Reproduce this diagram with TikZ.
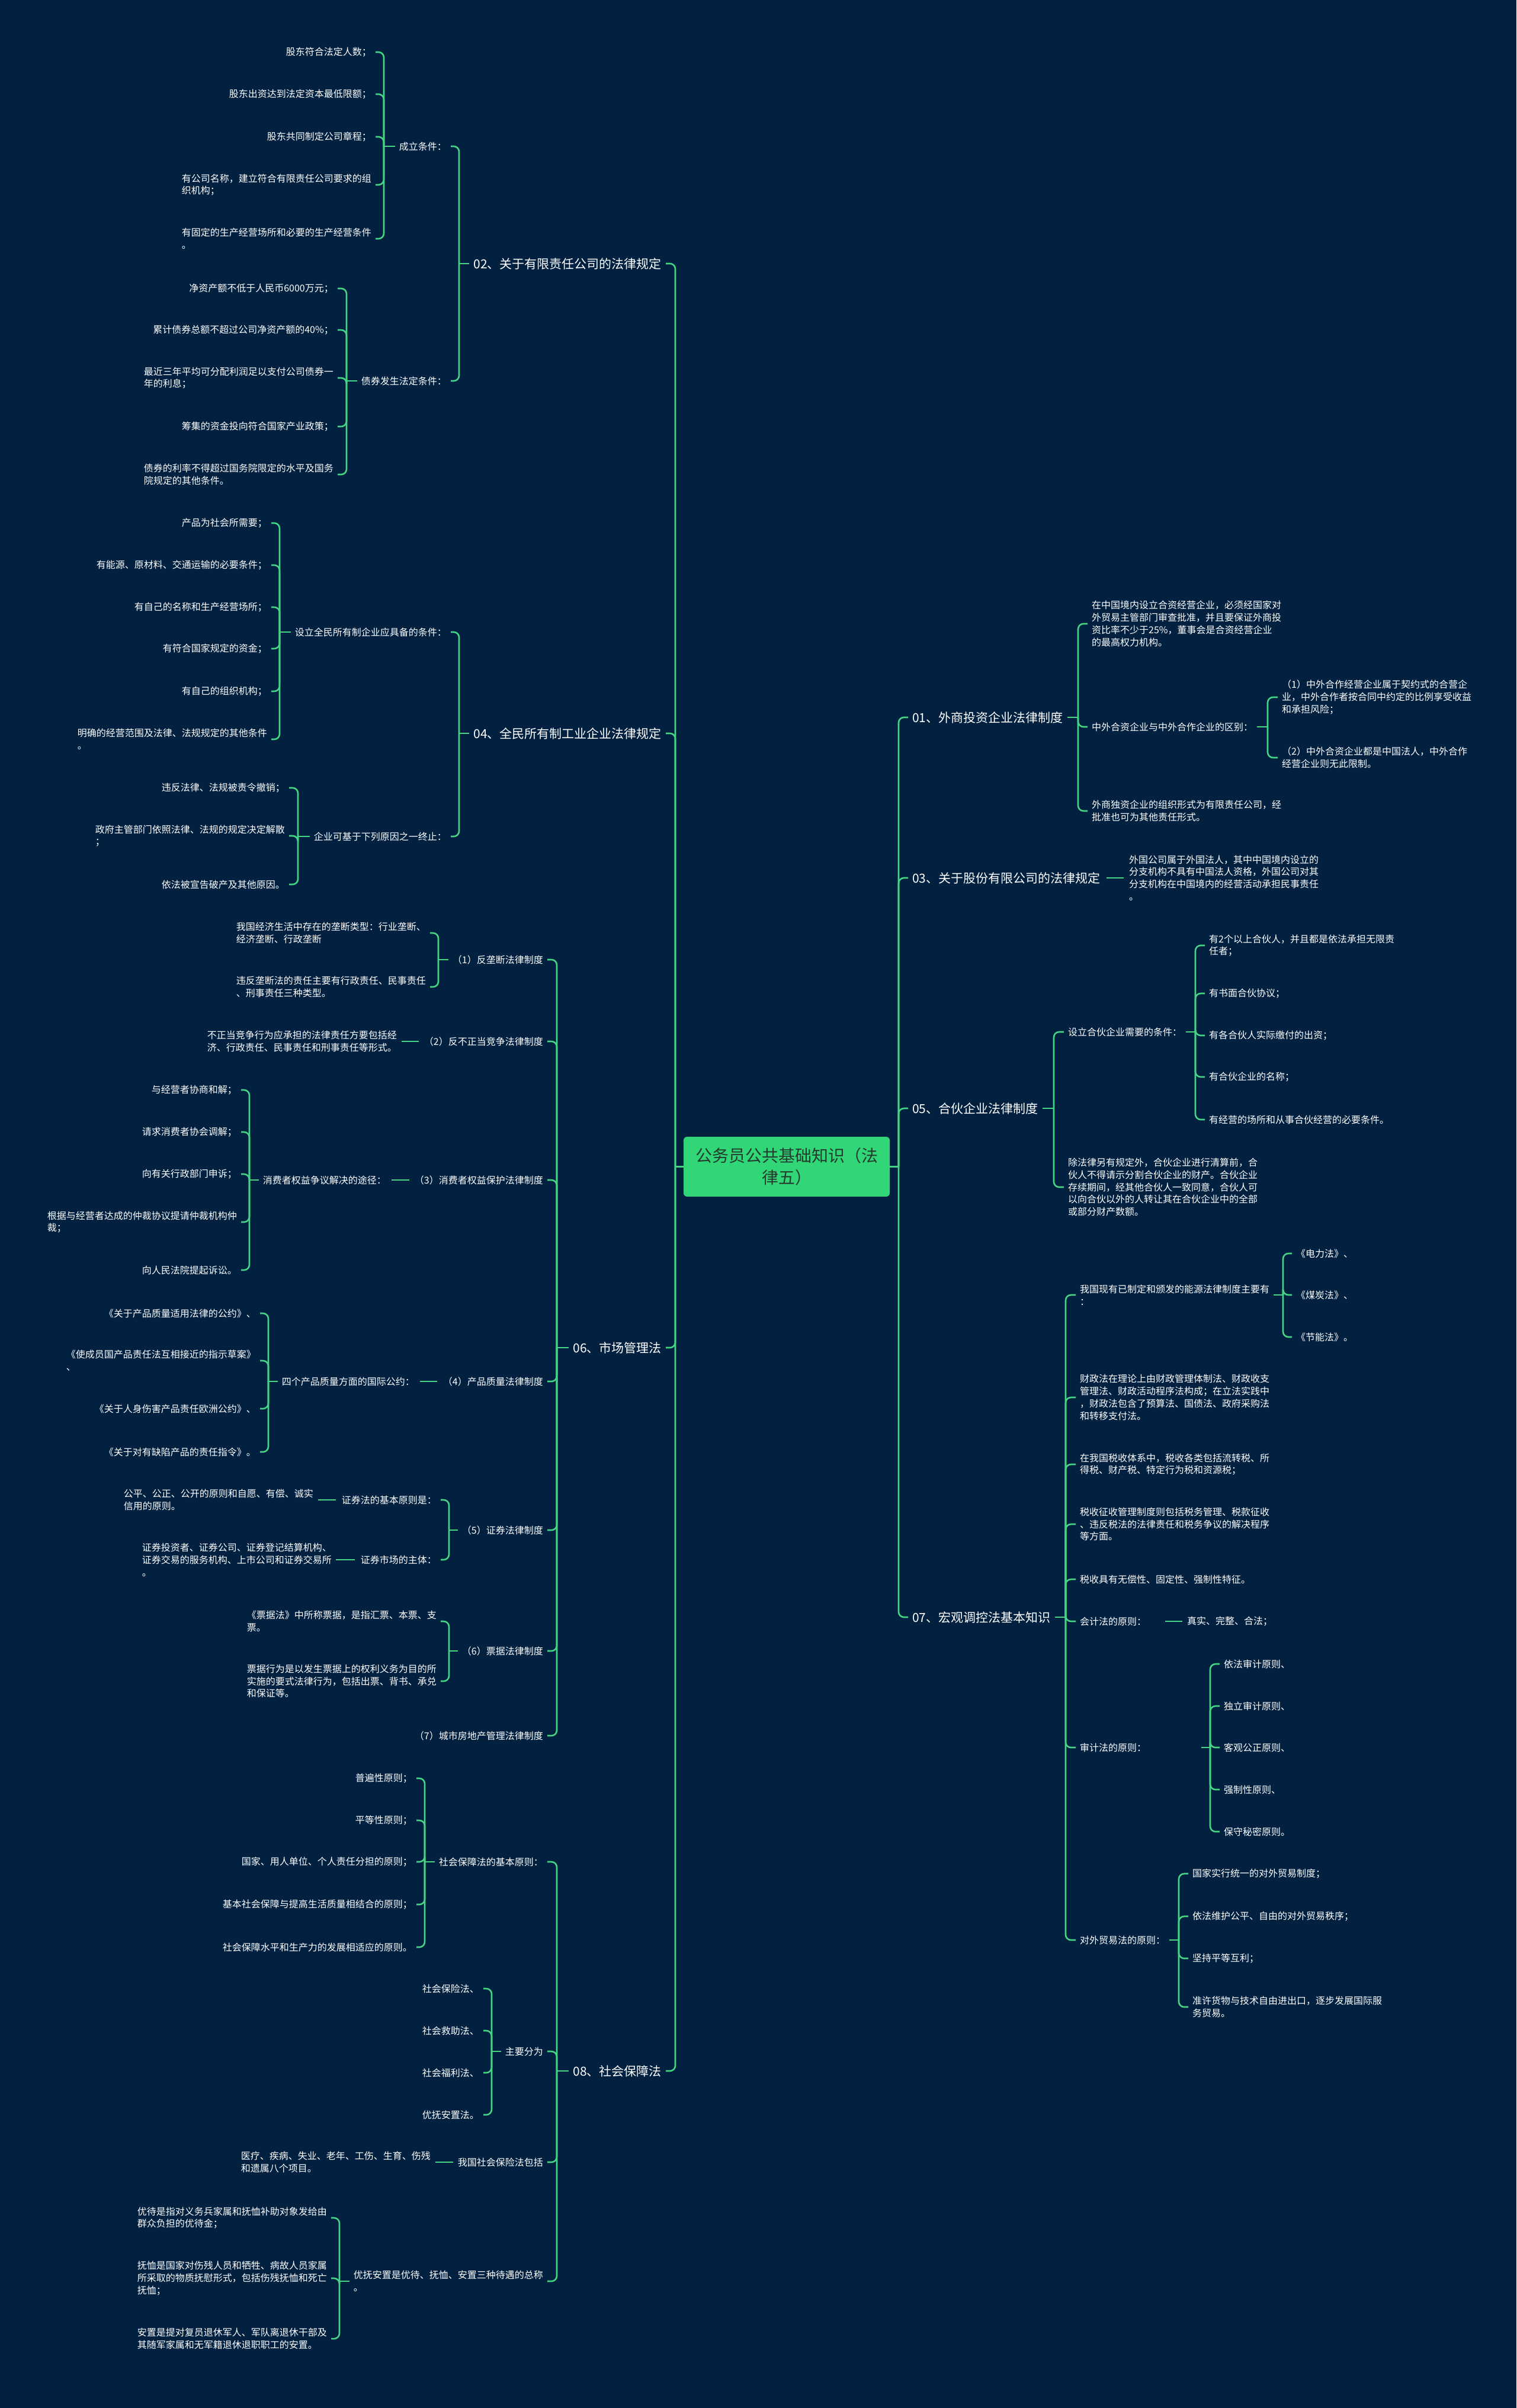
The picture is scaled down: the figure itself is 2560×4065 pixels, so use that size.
\documentclass[tikz,border=0pt]{standalone}
\usepackage{fontspec}
\setmainfont{Noto Sans CJK SC}
\usetikzlibrary{calc}
\definecolor{bgc}{HTML}{022140}
\definecolor{lnc}{HTML}{45D483}
\definecolor{rootfill}{HTML}{31D676}
\definecolor{roottext}{HTML}{253A2E}
\tikzset{
 conn/.style={draw=lnc, line width=2.6bp, rounded corners=9bp},
 lf/.style={text=white, inner sep=0pt, align=left, font=\fontsize{16bp}{20.8bp}\selectfont},
 lfl/.style={lf, anchor=east},
 lfr/.style={lf, anchor=west},
 br/.style={text=white, inner sep=0pt, font=\fontsize{21bp}{26bp}\selectfont},
 brl/.style={br, anchor=east},
 brr/.style={br, anchor=west},
 rootbox/.style={fill=rootfill, rounded corners=6bp, text=roottext, align=center, minimum width=348bp, minimum height=101bp, inner sep=0pt, font=\fontsize{28bp}{37.5bp}\selectfont}
}
% left group: parent, spine x, parent gap, children
\newcommand\LGrp[4]{%
 \coordinate (#1ls) at (#2,0);
 \foreach \c in {#4}{\draw[conn] ([xshift=7bp]\c.east) -| (#1ls |- #1.west);}
 \draw[conn] (#1ls |- #1.west) -- ([xshift=-#3bp]#1.west);}
% right group
\newcommand\RGrp[4]{%
 \coordinate (#1rs) at (#2,0);
 \foreach \c in {#4}{\draw[conn] ([xshift=-7bp]\c.west) -| (#1rs |- #1.east);}
 \draw[conn] (#1rs |- #1.east) -- ([xshift=#3bp]#1.east);}
\begin{document}
\begin{tikzpicture}[x=1bp,y=-1bp]
\useasboundingbox (0,0) rectangle (2560,4065);
\fill[bgc] (0,0) rectangle (2560,4065);

% root
\node[rootbox] (root) at (1328,1969.5) {公务员公共基础知识（法\\律五）};

% ===== LEFT =====
\node[brl] (p02) at (1117,445) {02、关于有限责任公司的法律规定};
\node[brl] (p04) at (1117,1238) {04、全民所有制工业企业法律规定};
\node[brl] (p06) at (1117,2275) {06、市场管理法};
\node[brl] (p08) at (1117,3496) {08、社会保障法};

% 02
\node[lfl] (ncl) at (754,247) {成立条件：};
\node[lfl] (nzq) at (754,643) {债券发生法定条件：};
\node[lfl] (a1) at (627,88) {股东符合法定人数；};
\node[lfl] (a2) at (627,159) {股东出资达到法定资本最低限额；};
\node[lfl] (a3) at (627,231) {股东共同制定公司章程；};
\node[lfl] (a4) at (627,312) {有公司名称，建立符合有限责任公司要求的组\\织机构；};
\node[lfl] (a5) at (627,403) {有固定的生产经营场所和必要的生产经营条件\\。};
\node[lfl] (b1) at (563,487) {净资产额不低于人民币6000万元；};
\node[lfl] (b2) at (563,557) {累计债券总额不超过公司净资产额的40\%；};
\node[lfl] (b3) at (563,638) {最近三年平均可分配利润足以支付公司债券一\\年的利息；};
\node[lfl] (b4) at (563,720) {筹集的资金投向符合国家产业政策；};
\node[lfl] (b5) at (563,801) {债券的利率不得超过国务院限定的水平及国务\\院规定的其他条件。};

% 04
\node[lfl] (nsl) at (754,1067) {设立全民所有制企业应具备的条件：};
\node[lfl] (nqy) at (754,1412) {企业可基于下列原因之一终止：};
\node[lfl] (c1) at (451,883) {产品为社会所需要；};
\node[lfl] (c2) at (451,954) {有能源、原材料、交通运输的必要条件；};
\node[lfl] (c3) at (451,1025) {有自己的名称和生产经营场所；};
\node[lfl] (c4) at (451,1095) {有符合国家规定的资金；};
\node[lfl] (c5) at (451,1167) {有自己的组织机构；};
\node[lfl] (c6) at (451,1248) {明确的经营范围及法律、法规规定的其他条件\\。};
\node[lfl] (d1) at (481,1330) {违反法律、法规被责令撤销；};
\node[lfl] (d2) at (481,1411) {政府主管部门依照法律、法规的规定决定解散\\；};
\node[lfl] (d3) at (481,1493) {依法被宣告破产及其他原因。};

% 06
\node[lfl] (m1) at (917,1620) {（1）反垄断法律制度};
\node[lfl] (m2) at (917,1758) {（2）反不正当竞争法律制度};
\node[lfl] (m3) at (917,1992) {（3）消费者权益保护法律制度};
\node[lfl] (m4) at (917,2332) {（4）产品质量法律制度};
\node[lfl] (m5) at (917,2583) {（5）证券法律制度};
\node[lfl] (m6) at (917,2787) {（6）票据法律制度};
\node[lfl] (m7) at (917,2930) {（7）城市房地产管理法律制度};

\node[lfl] (e1) at (719,1575) {我国经济生活中存在的垄断类型：行业垄断、\\经济垄断、行政垄断};
\node[lfl] (e2) at (719,1666) {违反垄断法的责任主要有行政责任、民事责任\\、刑事责任三种类型。};
\node[lfl] (e3) at (670,1758) {不正当竞争行为应承担的法律责任方要包括经\\济、行政责任、民事责任和刑事责任等形式。};

\node[lfl] (nxf) at (652,1992) {消费者权益争议解决的途径：};
\node[lfl] (f1) at (400,1840) {与经营者协商和解；};
\node[lfl] (f2) at (400,1911) {请求消费者协会调解；};
\node[lfl] (f3) at (400,1982) {向有关行政部门申诉；};
\node[lfl] (f4) at (400,2063) {根据与经营者达成的仲裁协议提请仲裁机构仲\\裁；};
\node[lfl] (f5) at (400,2144) {向人民法院提起诉讼。};

\node[lfl] (nsg) at (700,2332) {四个产品质量方面的国际公约：};
\node[lfl] (g1) at (432,2217) {《关于产品质量适用法律的公约》、};
\node[lfl] (g2) at (432,2297) {《使成员国产品责任法互相接近的指示草案》\\、};
\node[lfl] (g3) at (432,2378) {《关于人身伤害产品责任欧洲公约》、};
\node[lfl] (g4) at (432,2451) {《关于对有缺陷产品的责任指令》。};

\node[lfl] (nzj) at (737,2532) {证券法的基本原则是：};
\node[lfl] (nzs) at (737,2633) {证券市场的主体：};
\node[lfl] (h1) at (529,2532) {公平、公正、公开的原则和自愿、有偿、诚实\\信用的原则。};
\node[lfl] (h2) at (560,2633) {证券投资者、证券公司、证券登记结算机构、\\证券交易的服务机构、上市公司和证券交易所\\。};

\node[lfl] (i1) at (737,2737) {《票据法》中所称票据，是指汇票、本票、支\\票。};
\node[lfl] (i2) at (737,2838) {票据行为是以发生票据上的权利义务为目的所\\实施的要式法律行为，包括出票、背书、承兑\\和保证等。};

% 08
\node[lfl] (njb) at (917,3143) {社会保障法的基本原则：};
\node[lfl] (nzy) at (917,3463) {主要分为};
\node[lfl] (nbx) at (917,3650) {我国社会保险法包括};
\node[lfl] (nyf) at (917,3851) {优抚安置是优待、抚恤、安置三种待遇的总称\\。};
\node[lfl] (j1) at (696,3002) {普遍性原则；};
\node[lfl] (j2) at (696,3073) {平等性原则；};
\node[lfl] (j3) at (696,3143) {国家、用人单位、个人责任分担的原则；};
\node[lfl] (j4) at (696,3215) {基本社会保障与提高生活质量相结合的原则；};
\node[lfl] (j5) at (696,3287) {社会保障水平和生产力的发展相适应的原则。};
\node[lfl] (k1) at (809,3357) {社会保险法、};
\node[lfl] (k2) at (809,3428) {社会救助法、};
\node[lfl] (k3) at (809,3499) {社会福利法、};
\node[lfl] (k4) at (809,3570) {优抚安置法。};
\node[lfl] (l1) at (727,3650) {医疗、疾病、失业、老年、工伤、生育、伤残\\和遗属八个项目。};
\node[lfl] (o1) at (552,3744) {优待是指对义务兵家属和抚恤补助对象发给由\\群众负担的优待金；};
\node[lfl] (o2) at (552,3846) {抚恤是国家对伤残人员和牺牲、病故人员家属\\所采取的物质抚慰形式，包括伤残抚恤和死亡\\抚恤；};
\node[lfl] (o3) at (552,3948) {安置是提对复员退休军人、军队离退休干部及\\其随军家属和无军籍退休退职职工的安置。};

% ===== RIGHT =====
\node[brr] (r01) at (1540,1211) {01、外商投资企业法律制度};
\node[brr] (r03) at (1540,1482) {03、关于股份有限公司的法律规定};
\node[brr] (r05) at (1540,1871) {05、合伙企业法律制度};
\node[brr] (r07) at (1540,2730) {07、宏观调控法基本知识};

\node[lfr] (s1) at (1843,1053) {在中国境内设立合资经营企业，必须经国家对\\外贸易主管部门审查批准，并且要保证外商投\\资比率不少于25\%，董事会是合资经营企业\\的最高权力机构。};
\node[lfr] (s2) at (1843,1227) {中外合资企业与中外合作企业的区别：};
\node[lfr] (s3) at (1843,1369) {外商独资企业的组织形式为有限责任公司，经\\批准也可为其他责任形式。};
\node[lfr] (t1) at (2164,1177) {（1）中外合作经营企业属于契约式的合营企\\业，中外合作者按合同中约定的比例享受收益\\和承担风险；};
\node[lfr] (t2) at (2164,1279) {（2）中外合资企业都是中国法人，中外合作\\经营企业则无此限制。};

\node[lfr] (u1) at (1906,1482) {外国公司属于外国法人，其中中国境内设立的\\分支机构不具有中国法人资格，外国公司对其\\分支机构在中国境内的经营活动承担民事责任\\。};

\node[lfr] (v1) at (1803,1742) {设立合伙企业需要的条件：};
\node[lfr] (v2) at (1803,2004) {除法律另有规定外，合伙企业进行清算前，合\\伙人不得请示分割合伙企业的财产。合伙企业\\存续期间，经其他合伙人一致同意，合伙人可\\以向合伙以外的人转让其在合伙企业中的全部\\或部分财产数额。};
\node[lfr] (w1) at (2041,1596) {有2个以上合伙人，并且都是依法承担无限责\\任者；};
\node[lfr] (w2) at (2041,1677) {有书面合伙协议；};
\node[lfr] (w3) at (2041,1748) {有各合伙人实际缴付的出资；};
\node[lfr] (w4) at (2041,1818) {有合伙企业的名称；};
\node[lfr] (w5) at (2041,1890) {有经营的场所和从事合伙经营的必要条件。};

\node[lfr] (x1) at (1823,2186) {我国现有已制定和颁发的能源法律制度主要有\\：};
\node[lfr] (x2) at (1823,2359) {财政法在理论上由财政管理体制法、财政收支\\管理法、财政活动程序法构成；在立法实践中\\，财政法包含了预算法、国债法、政府采购法\\和转移支付法。};
\node[lfr] (x3) at (1823,2472) {在我国税收体系中，税收各类包括流转税、所\\得税、财产税、特定行为税和资源税；};
\node[lfr] (x4) at (1823,2573) {税收征收管理制度则包括税务管理、税款征收\\、违反税法的法律责任和税务争议的解决程序\\等方面。};
\node[lfr] (x5) at (1823,2666) {税收具有无偿性、固定性、强制性特征。};
\node[lfr] (x6) at (1823,2737) {会计法的原则：};
\node[lfr] (x7) at (1823,2950) {审计法的原则：};
\node[lfr] (x8) at (1823,3275) {对外贸易法的原则：};

\node[lfr] (y1) at (2188,2116) {《电力法》、};
\node[lfr] (y2) at (2188,2186) {《煤炭法》、};
\node[lfr] (y3) at (2188,2257) {《节能法》。};
\node[lfr] (z1) at (2004,2737) {真实、完整、合法；};
\node[lfr] (aa1) at (2066,2809) {依法审计原则、};
\node[lfr] (aa2) at (2066,2880) {独立审计原则、};
\node[lfr] (aa3) at (2066,2950) {客观公正原则、};
\node[lfr] (aa4) at (2066,3021) {强制性原则、};
\node[lfr] (aa5) at (2066,3092) {保守秘密原则。};
\node[lfr] (bb1) at (2013,3163) {国家实行统一的对外贸易制度；};
\node[lfr] (bb2) at (2013,3235) {依法维护公平、自由的对外贸易秩序；};
\node[lfr] (bb3) at (2013,3306) {坚持平等互利；};
\node[lfr] (bb4) at (2013,3388) {准许货物与技术自由进出口，逐步发展国际服\\务贸易。};

% ===== CONNECTORS =====
\LGrp{root}{1140}{0}{p02,p04,p06,p08}
\RGrp{root}{1517}{0}{r01,r03,r05,r07}

\LGrp{p02}{775}{7}{ncl,nzq}
\LGrp{ncl}{648}{7}{a1,a2,a3,a4,a5}
\LGrp{nzq}{585}{7}{b1,b2,b3,b4,b5}
\LGrp{p04}{775}{7}{nsl,nqy}
\LGrp{nsl}{472}{7}{c1,c2,c3,c4,c5,c6}
\LGrp{nqy}{503}{7}{d1,d2,d3}
\LGrp{p06}{940}{7}{m1,m2,m3,m4,m5,m6,m7}
\LGrp{m1}{740}{7}{e1,e2}
\LGrp{nxf}{421}{7}{f1,f2,f3,f4,f5}
\LGrp{nsg}{453}{7}{g1,g2,g3,g4}
\LGrp{m5}{758}{7}{nzj,nzs}
\LGrp{m6}{758}{7}{i1,i2}
\LGrp{p08}{940}{7}{njb,nzy,nbx,nyf}
\LGrp{njb}{717}{7}{j1,j2,j3,j4,j5}
\LGrp{nzy}{830}{7}{k1,k2,k3,k4}
\LGrp{nyf}{573}{7}{o1,o2,o3}

\draw[conn] ([xshift=8bp]e3.east) -- ([xshift=-9bp]m2.west);
\draw[conn] ([xshift=9bp]nxf.east) -- ([xshift=-9bp]m3.west);
\draw[conn] ([xshift=9bp]nsg.east) -- ([xshift=-10bp]m4.west);
\draw[conn] ([xshift=8bp]h1.east) -- ([xshift=-10bp]nzj.west);
\draw[conn] ([xshift=7bp]h2.east) -- ([xshift=-10bp]nzs.west);
\draw[conn] ([xshift=8bp]l1.east) -- ([xshift=-8bp]nbx.west);

\RGrp{r01}{1820}{7}{s1,s2,s3}
\RGrp{s2}{2140}{7}{t1,t2}
\RGrp{r05}{1779}{7}{v1,v2}
\RGrp{v1}{2018}{7}{w1,w2,w3,w4,w5}
\RGrp{r07}{1799}{7}{x1,x2,x3,x4,x5,x6,x7,x8}
\RGrp{x1}{2166}{7}{y1,y2,y3}
\RGrp{x7}{2043}{93}{aa1,aa2,aa3,aa4,aa5}
\RGrp{x8}{1990}{7}{bb1,bb2,bb3,bb4}

\draw[conn] ([xshift=10bp]r03.east) -- ([xshift=-9bp]u1.west);
\draw[conn] ([xshift=32bp]x6.east) -- ([xshift=-8bp]z1.west);
\end{tikzpicture}
\end{document}
